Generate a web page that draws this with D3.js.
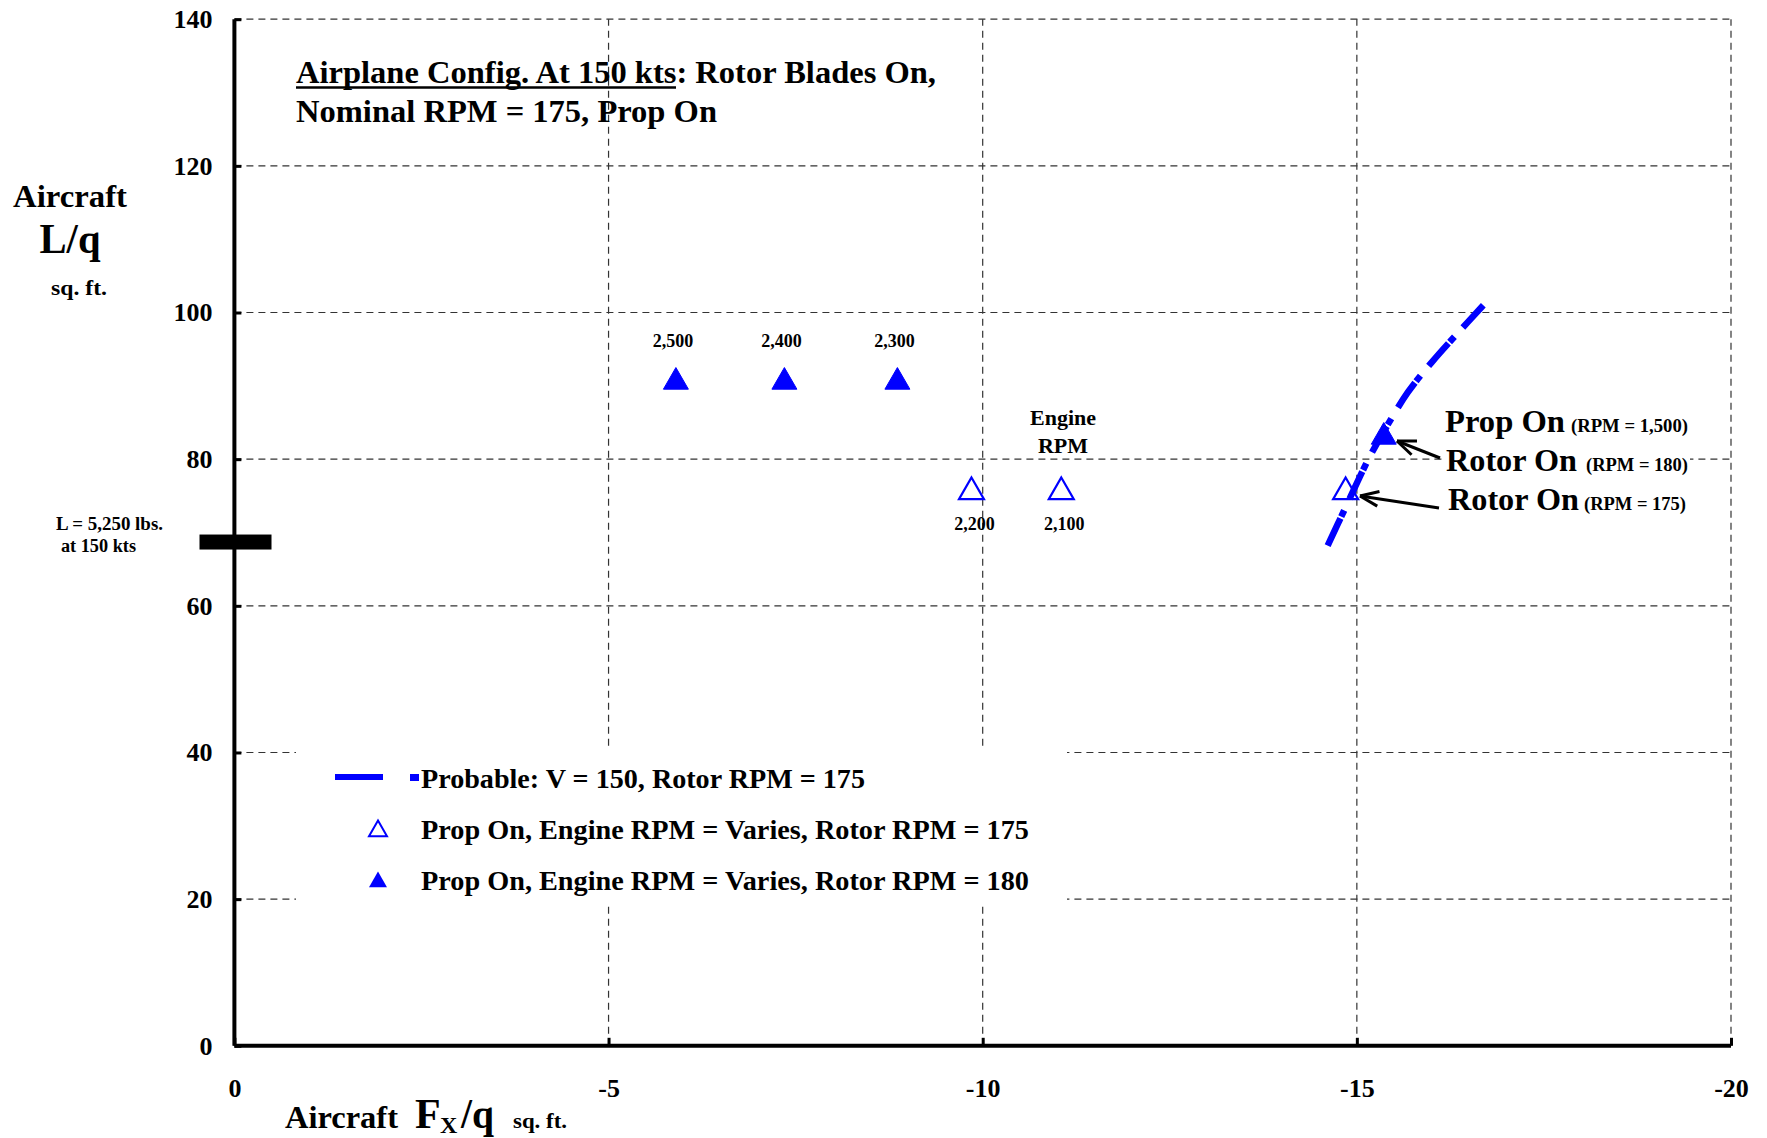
<!DOCTYPE html>
<html>
<head>
<meta charset="utf-8">
<script src="https://cdn.jsdelivr.net/npm/d3@7"></script>
<style>
  html, body { margin: 0; padding: 0; background: #fff; }
  svg { display: block; }
  text { font-family: "Liberation Serif", "Times New Roman", serif; font-weight: bold; fill: #000; }
</style>
</head>
<body>
<svg id="chart" width="1767" height="1138"></svg>
<script>
// ---- data ----
const xTicks = [0, -5, -10, -15, -20];
const yTicks = [0, 20, 40, 60, 80, 100, 120, 140];

// Probable line: V = 150, Rotor RPM = 175
const probableX = [-14.61, -14.83, -15.15, -15.35, -15.68, -16.0, -16.34, -16.69];
const probableY = [68.2, 73.0, 79.9, 83.6, 89.1, 93.2, 97.1, 101.0];

// Prop On, Engine RPM varies, Rotor RPM = 175 (open)
const open175X = [-9.85, -11.05, -14.85];
const open175Y = [75.8, 75.8, 75.8];
const open175Labels = ["2,200", "2,100", ""];

// Prop On, Engine RPM varies, Rotor RPM = 180 (filled)
const filled180X = [-5.9, -7.35, -8.86, -15.36];
const filled180Y = [90.8, 90.8, 90.8, 83.3];
const filled180Labels = ["2,500", "2,400", "2,300", ""];

const liftRefY = 68.7; // L = 5,250 lbs at 150 kts

// ---- layout ----
const svg = d3.select("#chart");
const x = d3.scaleLinear().domain([0, -20]).range([234.4, 1731]);
const y = d3.scaleLinear().domain([0, 140]).range([1045.8, 19.2]);
const blue = "#0000ff";
const fmt = d => String(d);

// grid
const grid = svg.append("g");
grid.selectAll("line.h").data(yTicks.filter(d => d > 0)).join("line")
  .attr("x1", x(0)).attr("x2", x(-20))
  .attr("y1", d => y(d)).attr("y2", d => y(d))
  .attr("stroke", "#333").attr("stroke-width", 1.2).attr("stroke-dasharray", "7,5");
grid.selectAll("line.v").data(xTicks.filter(d => d !== 0)).join("line")
  .attr("x1", d => x(d)).attr("x2", d => x(d))
  .attr("y1", y(0)).attr("y2", y(140))
  .attr("stroke", "#333").attr("stroke-width", 1.2).attr("stroke-dasharray", "7,5");

// legend box (covers grid)
svg.append("rect").attr("x", 296).attr("y", 748).attr("width", 771).attr("height", 157).attr("fill", "#fff");

// axes
const yAxis = d3.axisLeft(y).tickValues(yTicks).tickSize(-7).tickPadding(22).tickFormat(fmt);
const gy = svg.append("g").attr("transform", `translate(${x(0)},0)`).call(yAxis);
gy.select(".domain").attr("stroke", "#000").attr("stroke-width", 4).attr("d", `M0,${y(140)}V${y(0)}`);
gy.selectAll(".tick line").attr("stroke", "#000").attr("stroke-width", 3);
gy.selectAll(".tick text").attr("font-size", 26).attr("font-family", "Liberation Serif").attr("font-weight", "bold").attr("fill", "#000");

const xAxis = d3.axisBottom(x).tickValues(xTicks).tickSize(-8).tickPadding(33).tickFormat(fmt);
const gx = svg.append("g").attr("transform", `translate(0,${y(0)})`).call(xAxis);
gx.select(".domain").attr("stroke", "#000").attr("stroke-width", 4).attr("d", `M${x(0)},0H${x(-20)}`);
gx.selectAll(".tick line").attr("stroke", "#000").attr("stroke-width", 3);
gx.selectAll(".tick text").attr("font-size", 26).attr("font-family", "Liberation Serif").attr("font-weight", "bold").attr("fill", "#000");

// reference lift bar
svg.append("rect").attr("x", 199.5).attr("y", y(liftRefY) - 7.5).attr("width", 72).attr("height", 15).attr("fill", "#000");
svg.append("text").attr("x", 56).attr("y", 530).attr("font-size", 18).attr("textLength", 107).attr("lengthAdjust", "spacingAndGlyphs").text("L = 5,250 lbs.");
svg.append("text").attr("x", 61).attr("y", 552).attr("font-size", 18).attr("textLength", 75).attr("lengthAdjust", "spacingAndGlyphs").text("at 150 kts");

// axis titles
svg.append("text").attr("x", 70).attr("y", 207).attr("text-anchor", "middle").attr("font-size", 32).attr("textLength", 114).attr("lengthAdjust", "spacingAndGlyphs").text("Aircraft");
svg.append("text").attr("x", 70).attr("y", 253).attr("text-anchor", "middle").attr("font-size", 42).attr("textLength", 61).attr("lengthAdjust", "spacingAndGlyphs").text("L/q");
svg.append("text").attr("x", 79).attr("y", 295).attr("text-anchor", "middle").attr("font-size", 21).attr("textLength", 56).attr("lengthAdjust", "spacingAndGlyphs").text("sq. ft.");

svg.append("text").attr("x", 285).attr("y", 1128).attr("font-size", 31).attr("textLength", 113).attr("lengthAdjust", "spacingAndGlyphs").text("Aircraft");
svg.append("text").attr("x", 415).attr("y", 1128).attr("font-size", 42).text("F");
svg.append("text").attr("x", 440).attr("y", 1133).attr("font-size", 24).text("X");
svg.append("text").attr("x", 461).attr("y", 1128).attr("font-size", 42).attr("textLength", 33).attr("lengthAdjust", "spacingAndGlyphs").text("/q");
svg.append("text").attr("x", 513).attr("y", 1128).attr("font-size", 20).attr("textLength", 54).attr("lengthAdjust", "spacingAndGlyphs").text("sq. ft.");

// title
svg.append("text").attr("x", 296).attr("y", 83).attr("font-size", 31).attr("textLength", 640).attr("lengthAdjust", "spacingAndGlyphs")
  .text("Airplane Config. At 150 kts: Rotor Blades On,");
svg.append("line").attr("x1", 296).attr("x2", 676).attr("y1", 87.5).attr("y2", 87.5).attr("stroke", "#000").attr("stroke-width", 2.5);
svg.append("text").attr("x", 296).attr("y", 122).attr("font-size", 31).attr("textLength", 421).attr("lengthAdjust", "spacingAndGlyphs")
  .text("Nominal RPM = 175, Prop On");

// probable line (dash pattern fitted so both ends are drawn)
const line = d3.line().x(d => x(d[0])).y(d => y(d[1])).curve(d3.curveCatmullRom);
const probPath = svg.append("path").datum(d3.zip(probableX, probableY))
  .attr("d", line).attr("fill", "none").attr("stroke", blue).attr("stroke-width", 6.5);
const totalLen = probPath.node().getTotalLength();
const nPer = Math.max(1, Math.round(totalLen / 58));
const a0 = 30, per = (totalLen - a0) / nPer;
const k = per / 58;
probPath.attr("stroke-dasharray", `${a0},${2 * k},${8 * k},${per - a0 - 10 * k}`);

// markers
const tri = d3.symbol().type(d3.symbolTriangle).size(270);
svg.selectAll("path.o175").data(d3.zip(open175X, open175Y)).join("path")
  .attr("d", tri).attr("transform", d => `translate(${x(d[0])},${y(d[1]) + 2})`)
  .attr("fill", "none").attr("stroke", blue).attr("stroke-width", 2.2);
svg.selectAll("path.f180").data(d3.zip(filled180X, filled180Y)).join("path")
  .attr("d", tri).attr("transform", d => `translate(${x(d[0])},${y(d[1]) + 2})`)
  .attr("fill", blue).attr("stroke", blue).attr("stroke-width", 1);

// RPM labels
svg.selectAll("text.l180").data(d3.zip(filled180X, filled180Y, filled180Labels)).join("text")
  .attr("x", d => x(d[0]) - 3).attr("y", d => y(d[1]) - 33).attr("text-anchor", "middle").attr("font-size", 18).text(d => d[2]);
svg.selectAll("text.l175").data(d3.zip(open175X, open175Y, open175Labels)).join("text")
  .attr("x", d => x(d[0]) + 3).attr("y", d => y(d[1]) + 40).attr("text-anchor", "middle").attr("font-size", 18).text(d => d[2]);
svg.append("text").attr("x", 1063).attr("y", 425).attr("text-anchor", "middle").attr("font-size", 22).text("Engine");
svg.append("text").attr("x", 1063).attr("y", 453).attr("text-anchor", "middle").attr("font-size", 22).text("RPM");

// annotations
function annot(xp, yp, big, bigLen, small, smallX, smallLen) {
  svg.append("rect").attr("x", xp - 2).attr("y", yp - 24).attr("width", smallX + smallLen - xp + 4).attr("height", 30).attr("fill", "#fff");
  svg.append("text").attr("x", xp).attr("y", yp).attr("font-size", 31).attr("textLength", bigLen).attr("lengthAdjust", "spacingAndGlyphs").text(big);
  svg.append("text").attr("x", smallX).attr("y", yp).attr("font-size", 18).attr("textLength", smallLen).attr("lengthAdjust", "spacingAndGlyphs").text(small);
}
annot(1445, 432, "Prop On", 120, "(RPM = 1,500)", 1571, 117);
annot(1446, 471, "Rotor On", 131, "(RPM = 180)", 1586, 102);
annot(1448, 510, "Rotor On", 131, "(RPM = 175)", 1584, 102);

function arrow(x1, y1, x2, y2) {
  svg.append("line").attr("x1", x1).attr("y1", y1).attr("x2", x2).attr("y2", y2).attr("stroke", "#000").attr("stroke-width", 3);
  const a = Math.atan2(y1 - y2, x1 - x2), L = 20, s = 0.38;
  [a - s, a + s].forEach(b => {
    svg.append("line").attr("x1", x2).attr("y1", y2)
      .attr("x2", x2 + L * Math.cos(b)).attr("y2", y2 + L * Math.sin(b))
      .attr("stroke", "#000").attr("stroke-width", 3);
  });
}
arrow(1440, 458, 1397, 441);
arrow(1439, 508, 1360, 496);

// legend
svg.append("line").attr("x1", 335).attr("x2", 383).attr("y1", 777).attr("y2", 777).attr("stroke", blue).attr("stroke-width", 6);
svg.append("rect").attr("x", 410).attr("y", 774).attr("width", 9).attr("height", 7).attr("fill", blue);
svg.append("text").attr("x", 421).attr("y", 788).attr("font-size", 28).attr("textLength", 444).attr("lengthAdjust", "spacingAndGlyphs").text("Probable: V = 150, Rotor RPM = 175");
svg.append("path").attr("d", d3.symbol().type(d3.symbolTriangle).size(140)).attr("transform", "translate(378,831)")
  .attr("fill", "none").attr("stroke", blue).attr("stroke-width", 2);
svg.append("text").attr("x", 421).attr("y", 839).attr("font-size", 28).attr("textLength", 608).attr("lengthAdjust", "spacingAndGlyphs").text("Prop On, Engine RPM = Varies, Rotor RPM = 175");
svg.append("path").attr("d", d3.symbol().type(d3.symbolTriangle).size(140)).attr("transform", "translate(378,882)")
  .attr("fill", blue);
svg.append("text").attr("x", 421).attr("y", 890).attr("font-size", 28).attr("textLength", 608).attr("lengthAdjust", "spacingAndGlyphs").text("Prop On, Engine RPM = Varies, Rotor RPM = 180");
</script>
</body>
</html>
